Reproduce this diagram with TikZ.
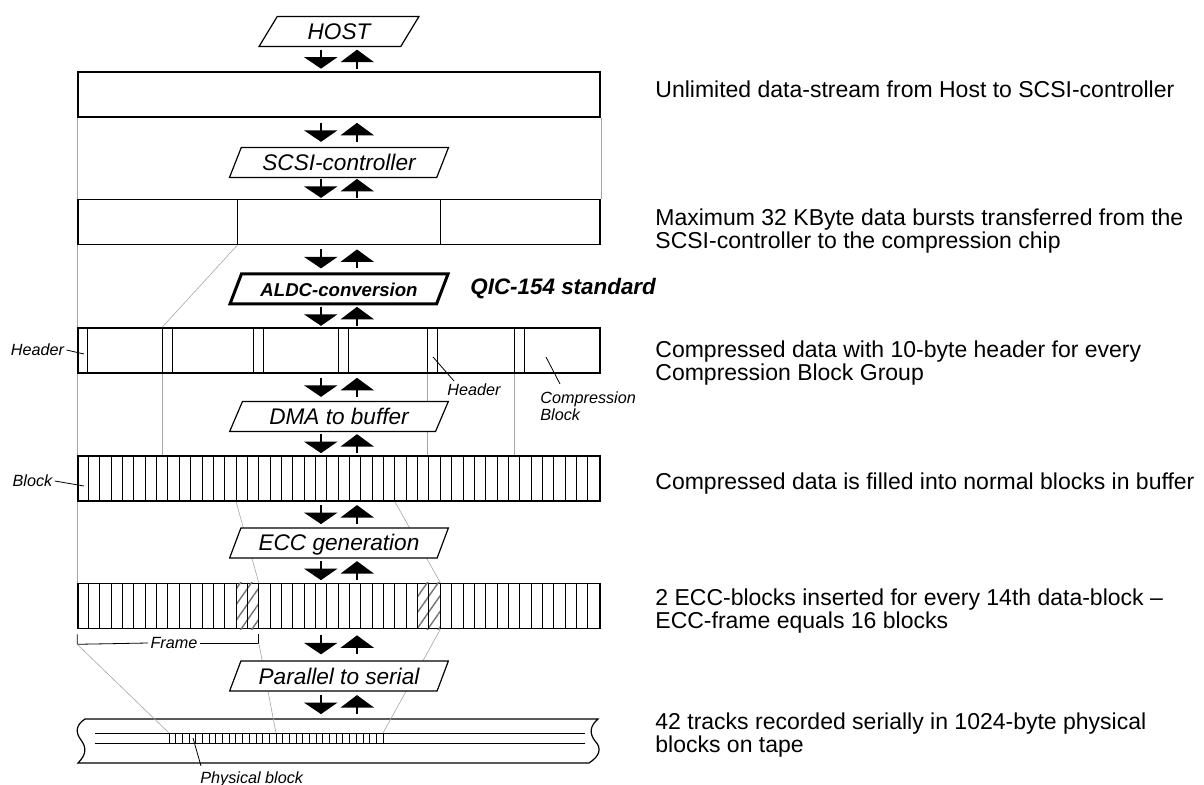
\documentclass[tikz,border=0pt]{standalone}
\usepackage{fontspec}
\setmainfont{Liberation Sans}
\usetikzlibrary{positioning, calc, shapes.geometric, patterns.meta}

\tikzset{
  bar/.style={draw, line width=0.8pt, minimum width=261pt, minimum height=22.5pt, inner sep=0pt},
  proc/.style={trapezium, trapezium left angle=60, trapezium right angle=120,
               trapezium stretches=true, draw, fill=white, line width=0.6pt,
               minimum width=110pt, minimum height=15pt, inner sep=0pt,
               text height=8pt, text depth=0pt, font=\fontsize{11.3}{12}\selectfont\itshape},
  note/.style={anchor=north west, inner sep=0pt, align=left, font=\fontsize{11.5}{11.5}\selectfont},
  tag/.style={inner sep=1pt, font=\fontsize{8.1}{8.5}\selectfont\itshape},
  guide/.style={draw=black!35, line width=0.3pt},
  leader/.style={line width=0.4pt},
  updown/.pic={
    \draw[line width=1pt] (-18,-9.5) -- (-18,-1);
    \fill (-35,-2) -- (-1.5,-2) -- (-18,9.5) -- cycle;
    \fill (18,-9.5) -- (35,3) -- (1.5,3) -- cycle;
    \draw[line width=1pt] (18,2) -- (18,9.5);
  }
}

\begin{document}
\begin{tikzpicture}[x=0.5pt, y=-0.5pt]
  \useasboundingbox (0,0) rectangle (1204,785);

  % data stages
  \node[bar] (stream) at (339,94.5) {};
  \node[bar] (bursts) at (339,222) {};
  \node[bar] (cbg) at (339,350.5) {};
  \node[bar] (blocks) at (339,478.5) {};
  \node[bar] (eccbar) at (339,606) {};
  \node[inner sep=0pt] (tapetop) at (339,719) {};

  % bursts and compression block groups
  \foreach \o in {160,363}
    \draw[line width=0.5pt] ($(bursts.north west)+(\o,0)$) -- ($(bursts.south west)+(\o,0)$);
  \foreach \o in {0,85,176,261,350,437}
    \draw[line width=0.5pt] ($(cbg.north west)+(\o,0)$) -- ($(cbg.south west)+(\o,0)$)
      ($(cbg.north west)+(\o+10.5,0)$) -- ($(cbg.south west)+(\o+10.5,0)$);

  % ECC blocks, then the cells
  \foreach \c in {14,30}
    \fill[pattern={Lines[angle=55,distance=4.5pt,line width=0.7pt]}, pattern color=black!55]
      ($(eccbar.north west)+(\c*11.348,0)$) rectangle ($(eccbar.south west)+(\c*11.348+22.696,0)$);
  \foreach \stage in {blocks,eccbar}
    \foreach \k in {1,...,45}
      \draw[line width=0.5pt] ($(\stage.north west)+(\k*11.348,0)$) -- ($(\stage.south west)+(\k*11.348,0)$);

  % tape with 42 tracks
  \draw[line width=0.6pt] (85,719) -- (598,719)
    .. controls (590,726) and (589,733) .. (595,741)
    .. controls (602,748) and (600,756) .. (589,763) -- (78,763)
    .. controls (86,755) and (87,748) .. (81,740)
    .. controls (75,732) and (76,725) .. (85,719) -- cycle;
  \draw[line width=0.5pt] (95,733) -- (585,733) (95,743) -- (585,743);
  \coordinate (trk0) at (169,733);
  \coordinate (trk16) at (276,733);
  \coordinate (trk32) at (383,733);
  \foreach \k in {0,...,32}
    \draw[line width=0.4pt] ($(trk0)+(\k*6.6875,0)$) -- ++(0,10);

  % frame bracket
  \node[tag] (frame) at (174,643) {Frame};
  \coordinate (frL) at ($(eccbar.south west)+(0,5)$);
  \coordinate (frR) at ($(eccbar.south west)+(16*11.348,5)$);
  \draw[leader] (frL) -- ++(0,10) coordinate (frLb) -- (frame.west);
  \draw[leader] (frame.east) -- (frame.east -| frR) coordinate (frRb) -- (frR);

  % guide lines
  \draw[guide] (stream.south west) -- (bursts.north west);
  \draw[guide] (stream.south east) -- (bursts.north east);
  \draw[guide] (bursts.south west) -- (cbg.north west);
  \draw[guide] ($(bursts.south west)+(160,0)$) -- ($(cbg.north west)+(85,0)$);
  \foreach \o in {0,85,350,437}
    \draw[guide] ($(cbg.south west)+(\o,0)$) -- ($(blocks.north west)+(\o,0)$);
  \draw[guide] (blocks.south west) -- (eccbar.north west);
  \draw[guide] ($(blocks.south west)+(14*11.348,0)$) -- ($(eccbar.north west)+(16*11.348,0)$);
  \draw[guide] ($(blocks.south west)+(28*11.348,0)$) -- ($(eccbar.north west)+(32*11.348,0)$);
  \draw[guide] (frLb) -- (trk0);
  \draw[guide] (frRb) -- (trk16);
  \draw[guide] ($(eccbar.south west)+(32*11.348,0)$) -- (trk32);

  % processing steps
  \node[proc, minimum width=80pt] (host) at (339,31.5) {HOST};
  \node[proc] (scsi) at (339,162.5) {SCSI-controller};
  \node[proc, line width=1.5pt, font=\fontsize{9.3}{11}\selectfont\bfseries\itshape] (aldc) at (339,289) {ALDC-conversion};
  \node[proc] (dma) at (339,416.5) {DMA to buffer};
  \node[proc] (eccgen) at (339,543) {ECC generation};
  \node[proc] (p2s) at (339,676) {Parallel to serial};
  \node[anchor=west, inner sep=0pt, font=\fontsize{11.2}{12}\selectfont\bfseries\itshape] (qic) at (470,289) {QIC-154 standard};

  \foreach \a/\b in {host/stream, stream/scsi, scsi/bursts, bursts/aldc, aldc/cbg, cbg/dma,
                     dma/blocks, blocks/eccgen, eccgen/eccbar, eccbar/p2s, p2s/tapetop}
    \pic at ($(\a.center |- \a.south)!.5!(\b.center |- \b.north)$) {updown};

  % notes
  \node[note] (streamnote) at (655,80.5) {Unlimited data-stream from Host to SCSI-controller};
  \node[note] (burstnote) at (655,208.5) {Maximum 32 KByte data bursts transferred from the\\SCSI-controller to the compression chip};
  \node[note] (cbgnote) at (655,340.5) {Compressed data with 10-byte header for every\\Compression Block Group};
  \node[note] (blocknote) at (655,472.5) {Compressed data is filled into normal blocks in buffer};
  \node[note] (eccnote) at (655,588.5) {2 ECC-blocks inserted for every 14th data-block –\\ECC-frame equals 16 blocks};
  \node[note] (tapenote) at (655,712.5) {42 tracks recorded serially in 1024-byte physical\\blocks on tape};

  % tags
  \node[tag] (hdrleft) at (37.5,350) {Header};
  \coordinate (hdrleftpt) at (84,354);
  \draw[leader] (hdrleft.east) -- (hdrleftpt);
  \node[tag, anchor=north west, inner sep=0pt] (hdrmid) at (447,383) {Header};
  \coordinate (hdrmidpt) at (433,357);
  \draw[leader] (hdrmidpt) -- ([xshift=3.5pt,yshift=1pt]hdrmid.north west);
  \node[tag, anchor=north west, inner sep=0pt, align=left] (cblock) at (540,391) {Compression\\Block};
  \coordinate (cblockpt) at (546,357);
  \draw[leader] (cblockpt) -- ([xshift=10pt,yshift=3.5pt]cblock.north west);
  \node[tag] (blk) at (32.5,481) {Block};
  \coordinate (blkpt) at (84,486);
  \draw[leader] (blk.east) -- (blkpt);
  \node[tag, anchor=north west, inner sep=0pt] (phys) at (200,771) {Physical block};
  \coordinate (physpt) at (193,738);
  \draw[leader] (physpt) -- ([xshift=0.5pt,yshift=2.5pt]phys.north west);
\end{tikzpicture}
\end{document}
